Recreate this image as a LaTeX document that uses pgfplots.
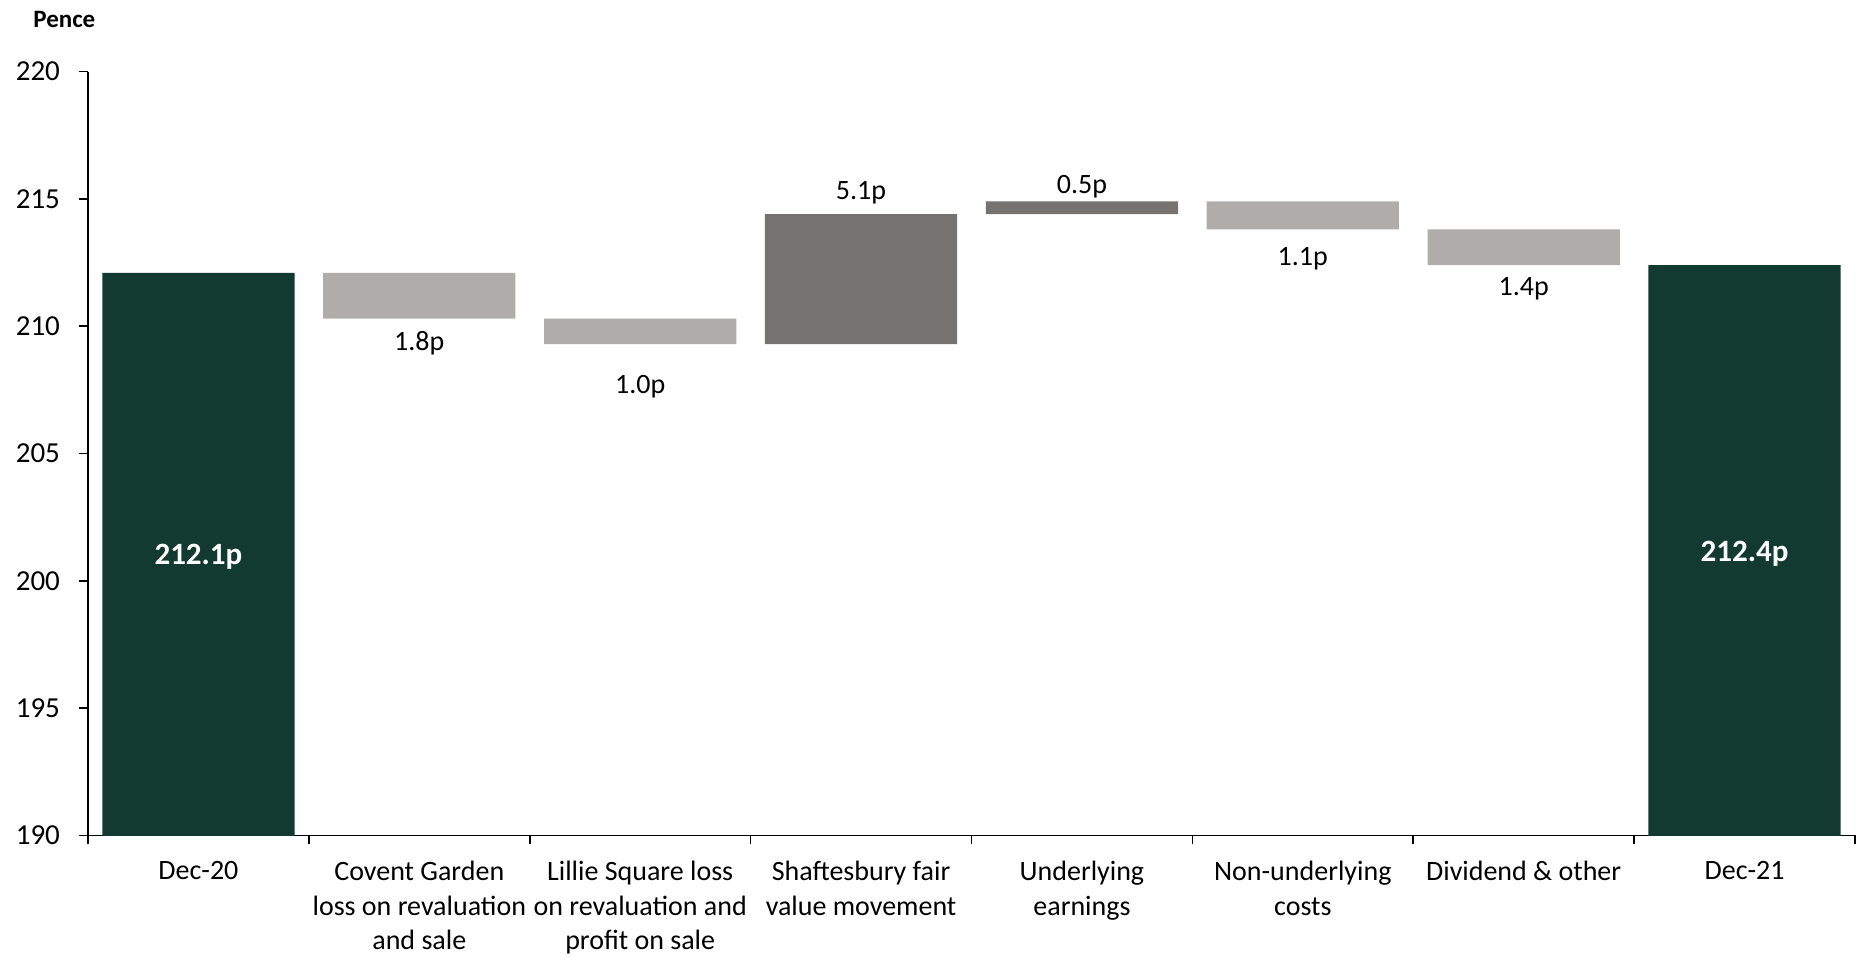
\documentclass[border=0pt]{standalone}
\usepackage{pgfplots}
\usepackage{pgfplotstable}
\pgfplotsset{compat=1.18}
\usepackage{fontspec}
\setmainfont{Carlito}

\definecolor{navgreen}{RGB}{19,58,48}
\definecolor{lossgrey}{RGB}{176,172,170}
\definecolor{gaingrey}{RGB}{118,114,112}

% Waterfall: invisible base, then one column per bar colour
\pgfplotstableread{
x base total loss gain
0 0     212.1 0   0
1 210.3 0     1.8 0
2 209.3 0     1.0 0
3 209.3 0     0   5.1
4 214.4 0     0   0.5
5 213.8 0     1.1 0
6 212.4 0     1.4 0
7 0     212.4 0   0
}\waterfall

% Value labels and where they sit
\pgfplotstableread{
x y label
1 209.33 1.8p
2 207.61 1.0p
3 215.24 5.1p
4 215.47 0.5p
5 212.64 1.1p
6 211.47 1.4p
}\steplabels

\pgfplotstableread{
x y label
0 200.95 212.1p
7 201.05 212.4p
}\endlabels

\newcommand{\lbl}{\fontsize{14}{17.2}\selectfont}

\pgfplotsset{
  common/.style={
    scale only axis,
    width=883.5pt, height=381.9pt,
    xmin=-0.5, xmax=7.5,
    ymin=190, ymax=220,
    at={(0,0)}, anchor=south west,
  }
}

\begin{document}
\begin{tikzpicture}
\useasboundingbox (-44pt,-60.75pt) rectangle (885pt,417.75pt);
\begin{axis}[
  common,
  ybar stacked,
  bar width=0.87,
  axis lines=left,
  axis line style={-, line width=0.8pt},
  tick align=outside,
  major tick length=4.5pt,
  tick style={black, line width=0.8pt},
  /pgf/number format/assume math mode=true,
  ytick={190,195,...,220},
  yticklabel style={font=\fontsize{14.5}{17}\selectfont, xshift=-6pt},
  xtick={-0.5,0.5,...,7.5},
  xticklabels={},
  extra x ticks={0,1,...,7},
  extra x tick labels={
    Dec-20,
    {Covent Garden\\loss on revaluation\\and sale},
    {Lillie Square loss\\on revaluation and\\profit on sale},
    {Shaftesbury fair\\value movement},
    {Underlying\\earnings},
    {Non-underlying\\costs},
    {Dividend \& other},
    Dec-21},
  extra x tick style={major tick length=0pt},
  xticklabel style={font=\lbl, align=center, anchor=north, yshift=-9.5pt},
  title={Pence},
  title style={font=\fontsize{12.5}{14}\selectfont\bfseries, inner sep=0pt,
    at={(axis description cs:0,1)}, anchor=west, xshift=-27.5pt, yshift=20.3pt},
]
\addplot[draw=none, fill=none] table[x=x, y=base] {\waterfall};
\addplot[draw=none, fill=navgreen] table[x=x, y=total] {\waterfall};
\addplot[draw=none, fill=lossgrey] table[x=x, y=loss] {\waterfall};
\addplot[draw=none, fill=gaingrey] table[x=x, y=gain] {\waterfall};
\end{axis}

\begin{axis}[common, hide axis]
\addplot[draw=none, mark=none, nodes near coords, point meta=explicit symbolic,
  nodes near coords style={anchor=center, font=\lbl, text=black}]
  table[x=x, y=y, meta=label] {\steplabels};
\addplot[draw=none, mark=none, nodes near coords, point meta=explicit symbolic,
  nodes near coords style={anchor=center, font=\fontsize{15.5}{18}\selectfont\bfseries, text=white}]
  table[x=x, y=y, meta=label] {\endlabels};
\end{axis}
\end{tikzpicture}
\end{document}
